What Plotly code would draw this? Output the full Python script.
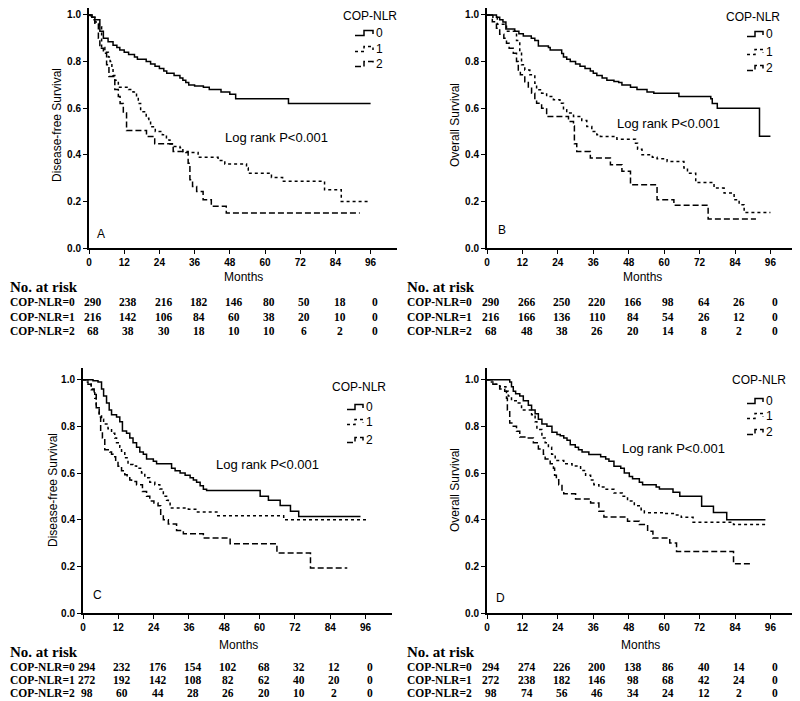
import plotly.graph_objects as go

# ---------------- data ----------------
MONTH_TICKS = [0, 12, 24, 36, 48, 60, 72, 84, 96]
GROUPS = ["0", "1", "2"]
RISK_LABELS = ["COP-NLR=0", "COP-NLR=1", "COP-NLR=2"]

# Panel A: Disease-free survival (step points: month, survival)
A0 = [(0,1),(1,0.99),(2,0.98),(3.7,0.93),(4.9,0.90),(6.5,0.885),(8.2,0.87),(9.5,0.86),(10.5,0.85),(12,0.84),(13.5,0.83),(15.5,0.82),(16.5,0.81),(19.5,0.80),(21,0.79),(22.5,0.78),(24,0.77),(25.5,0.76),(26.5,0.75),(29,0.74),(31,0.73),(32,0.72),(33,0.71),(34,0.70),(36,0.695),(39,0.69),(41,0.68),(45,0.67),(48,0.66),(50,0.64),(68,0.62),(96,0.62)]
A1 = [(0,1),(0.5,0.99),(2,0.97),(3.5,0.95),(4.3,0.86),(5.4,0.84),(6.6,0.82),(7.2,0.80),(7.8,0.77),(8.2,0.74),(8.8,0.72),(10,0.69),(13.5,0.68),(15,0.67),(16.2,0.65),(16.8,0.62),(17.6,0.585),(19.5,0.557),(20.4,0.54),(21,0.52),(22.6,0.50),(25,0.486),(26.4,0.464),(27.6,0.446),(28.7,0.436),(31,0.43),(32,0.414),(33,0.41),(37.2,0.389),(44,0.376),(46.3,0.361),(53.7,0.343),(54.3,0.321),(62.2,0.303),(66,0.286),(80.3,0.25),(86,0.20),(96,0.20)]
A2 = [(0,1),(1,0.98),(2,0.96),(3.2,0.90),(3.7,0.857),(4.9,0.836),(6,0.786),(6.8,0.736),(8.8,0.68),(10,0.65),(10.6,0.62),(11.7,0.579),(12.8,0.504),(19.6,0.479),(22.4,0.447),(28.7,0.414),(33.8,0.364),(34.4,0.293),(35.3,0.264),(36.7,0.243),(38.9,0.207),(41.7,0.179),(46.8,0.15),(92.3,0.15)]
RISK_A = [[290,238,216,182,146,80,50,18,0],[216,142,106,84,60,38,20,10,0],[68,38,30,18,10,10,6,2,0]]

# Panel B: Overall survival
B0 = [(0,1),(3.2,0.99),(4.3,0.98),(5.4,0.97),(6.4,0.94),(9.4,0.93),(10.8,0.92),(12.3,0.91),(15,0.90),(16.2,0.89),(17.4,0.867),(20.8,0.86),(21.4,0.85),(25.3,0.835),(25.9,0.82),(27,0.81),(28.2,0.80),(30,0.79),(31.5,0.78),(33.2,0.77),(35,0.76),(36,0.75),(37.2,0.74),(39,0.73),(40.6,0.72),(43,0.715),(44.6,0.71),(45.7,0.70),(48.6,0.69),(50.8,0.68),(54.2,0.67),(56.5,0.664),(65,0.65),(75.8,0.64),(76.3,0.62),(78,0.60),(92.3,0.48),(96,0.48)]
B1 = [(0,1),(2,0.99),(3.5,0.96),(6.6,0.93),(10,0.89),(11.1,0.836),(11.7,0.786),(12.8,0.764),(14.5,0.743),(16.2,0.707),(16.8,0.679),(18.5,0.664),(20.2,0.65),(22.5,0.636),(24.7,0.621),(25.9,0.593),(27,0.579),(29.3,0.564),(32.1,0.547),(33.8,0.521),(35.5,0.50),(37.2,0.486),(38.4,0.479),(44,0.467),(50.3,0.45),(51,0.424),(52.5,0.40),(56,0.39),(57.6,0.383),(61,0.371),(66.7,0.343),(67.9,0.321),(70.7,0.281),(76.9,0.257),(80.3,0.236),(83.7,0.207),(85.4,0.186),(87.1,0.152),(96,0.152)]
B2 = [(0,1),(1.8,0.971),(3.2,0.943),(4.3,0.917),(5.7,0.90),(6.6,0.879),(7.5,0.857),(8.9,0.836),(10,0.80),(10.6,0.764),(11.3,0.743),(12.8,0.714),(14,0.686),(15.1,0.664),(16.2,0.636),(16.8,0.621),(18.5,0.60),(20.2,0.564),(27.6,0.543),(29.3,0.524),(29.6,0.447),(30.4,0.414),(35,0.386),(41.8,0.357),(45.7,0.329),(48.6,0.271),(57.6,0.207),(63.3,0.183),(74.9,0.124),(91.1,0.124)]
RISK_B = [[290,266,250,220,166,98,64,26,0],[216,166,136,110,84,54,26,12,0],[68,48,38,26,20,14,8,2,0]]

# Panel C: Disease-free survival
C0 = [(0,1),(3.4,0.995),(5.1,0.99),(6.3,0.96),(7,0.93),(8,0.90),(8.9,0.87),(9.7,0.85),(11.4,0.84),(12.5,0.82),(13.4,0.78),(14.8,0.77),(15.9,0.75),(17,0.73),(18.2,0.71),(19.3,0.69),(20.5,0.68),(21.6,0.66),(23.9,0.65),(25,0.64),(30.1,0.62),(31.3,0.61),(33,0.60),(34.7,0.59),(36.4,0.58),(37.5,0.57),(38.6,0.56),(39.8,0.545),(40.9,0.53),(42,0.525),(60.2,0.50),(63,0.483),(67,0.461),(70.5,0.436),(73.3,0.414),(94.3,0.414)]
C1 = [(0,1),(1,0.99),(1.7,0.98),(2.8,0.957),(4,0.92),(4.5,0.88),(5.5,0.85),(6.3,0.83),(7,0.81),(8.5,0.79),(9.7,0.77),(10.8,0.75),(11.4,0.73),(12.5,0.71),(13.1,0.693),(14.2,0.665),(15.3,0.636),(17,0.63),(18.2,0.62),(19.9,0.60),(21,0.58),(22.7,0.56),(24.4,0.55),(26.1,0.531),(27.3,0.50),(28.4,0.483),(29,0.47),(29.6,0.45),(35.8,0.445),(38.6,0.433),(45.5,0.417),(68.2,0.40),(96.5,0.40)]
C2 = [(0,1),(1.7,0.98),(2.8,0.96),(3.8,0.936),(4.5,0.88),(5.5,0.84),(6,0.779),(6.6,0.75),(7.4,0.70),(9.1,0.69),(9.7,0.68),(10.2,0.67),(11.1,0.65),(11.9,0.629),(13.1,0.61),(14.2,0.593),(15,0.58),(15.9,0.57),(16.5,0.564),(18.2,0.55),(20.2,0.521),(21.6,0.50),(22.7,0.48),(24.1,0.471),(25.5,0.46),(26.4,0.42),(27.3,0.40),(29,0.381),(31.8,0.354),(34.1,0.34),(40.9,0.321),(50,0.297),(65.9,0.257),(77.3,0.193),(89.8,0.193)]
RISK_C = [[294,232,176,154,102,68,32,12,0],[272,192,142,108,82,62,40,20,0],[98,60,44,28,26,20,10,2,0]]

# Panel D: Overall survival
D0 = [(0,1),(7.7,0.99),(8.3,0.97),(8.9,0.95),(9.7,0.94),(11.1,0.93),(12.3,0.91),(14,0.89),(15.1,0.87),(16.3,0.854),(17.4,0.83),(18.6,0.81),(20.3,0.80),(22,0.775),(23.7,0.765),(24.8,0.76),(26,0.75),(27.1,0.74),(28.2,0.721),(29.9,0.71),(31,0.70),(32.2,0.69),(34.5,0.679),(38.5,0.67),(40.2,0.66),(41.3,0.65),(43,0.629),(45.3,0.62),(46.5,0.60),(48.2,0.585),(49.3,0.575),(51.6,0.56),(52.7,0.55),(57.3,0.54),(58.4,0.531),(63,0.517),(65.3,0.50),(72.7,0.457),(76.7,0.431),(81.2,0.40),(94.3,0.40)]
D1 = [(0,1),(0.9,0.99),(2,0.98),(4.3,0.97),(6.4,0.95),(7.2,0.93),(8.3,0.91),(10.6,0.90),(11.7,0.87),(15.1,0.85),(16.3,0.82),(16.9,0.786),(18.6,0.75),(19.7,0.73),(20.8,0.71),(21.9,0.68),(23.1,0.654),(26,0.64),(28.8,0.63),(31.7,0.611),(33.4,0.59),(35.1,0.57),(36.2,0.55),(37.9,0.54),(39.6,0.53),(43,0.514),(45.8,0.50),(47.6,0.48),(49.9,0.46),(52.2,0.443),(53.3,0.43),(60.1,0.426),(63.5,0.42),(65.8,0.41),(69.8,0.389),(83.5,0.379),(94.9,0.379)]
D2 = [(0,1),(2,0.98),(4.3,0.96),(6,0.95),(6.6,0.92),(6.9,0.87),(7.7,0.814),(8.9,0.80),(10,0.779),(11.1,0.754),(14,0.75),(15.7,0.73),(17.4,0.703),(19.1,0.68),(19.7,0.66),(21.4,0.64),(22.5,0.62),(22.9,0.59),(23.5,0.571),(24.3,0.55),(25.4,0.521),(26,0.511),(30,0.489),(35.1,0.471),(37.9,0.436),(39.6,0.411),(47.6,0.393),(51.6,0.379),(54.4,0.35),(56.2,0.321),(61.9,0.30),(64.2,0.264),(83.5,0.211),(89.2,0.211)]
RISK_D = [[294,274,226,200,138,86,40,14,0],[272,238,182,146,98,68,42,24,0],[98,74,56,46,34,24,12,2,0]]

# ---------------- layout helpers (window pixel -> paper) ----------------
# The page body has an 8px margin, so the figure is 792x693 placed at (8, 8).
OFF = 8
W, H = 800 - OFF, 701 - OFF
def fx(p): return (p - OFF) / W
def fy(p): return min(1.0, max(0.0, 1 - (p - OFF) / H))

SANS = "Liberation Sans, Arial, sans-serif"
NARROW = "Liberation Sans Narrow, Arial Narrow, Liberation Sans, Arial"
SERIF = "Liberation Serif, Times New Roman, serif"
DASHES = ["solid", "dot", "6px,3px"]

panels = [
    dict(letter="A", curves=[A0, A1, A2], risk=RISK_A, ytitle="Disease-free Survival",
         xd=(89, 397), yd=(8, 248), ymax=1.03, yt=(57, 125), let=(101, 234), lr=(276, 137),
         lgt=(370, 16), lg=(355, 373), lgr=[33, 49, 64], mo=(243, 277),
         nar=(8, 287), rows=[302, 317, 331]),
    dict(letter="B", curves=[B0, B1, B2], risk=RISK_B, ytitle="Overall Survival",
         xd=(487, 797), yd=(8, 248), ymax=1.03, yt=(455, 125), let=(502, 230), lr=(668, 123),
         lgt=(753, 17), lg=(747, 763), lgr=[34, 52, 68], mo=(642, 277),
         nar=(405, 287), rows=[302, 317, 331]),
    dict(letter="C", curves=[C0, C1, C2], risk=RISK_C, ytitle="Disease-free Survival",
         xd=(83, 392), yd=(368, 613), ymax=1.05, yt=(53, 490), let=(97, 595), lr=(267, 465),
         lgt=(359, 387), lg=(347, 363), lgr=[407, 422, 440], mo=(238, 645),
         nar=(8, 652), rows=[667, 680, 693]),
    dict(letter="D", curves=[D0, D1, D2], risk=RISK_D, ytitle="Overall Survival",
         xd=(487, 797), yd=(368, 613), ymax=1.05, yt=(455, 490), let=(500, 598), lr=(673, 448),
         lgt=(759, 380), lg=(747, 763), lgr=[401, 416, 432], mo=(640, 645),
         nar=(405, 652), rows=[667, 680, 693]),
]

fig = go.Figure()
annotations = []
shapes = []
layout = {}

def note(x, y, text, font, xref="paper", xanchor="center", angle=0):
    annotations.append(dict(x=x, y=y, xref=xref, yref="paper", text=text, showarrow=False,
                            xanchor=xanchor, yanchor="middle", textangle=angle, font=font))

for i, p in enumerate(panels):
    n = "" if i == 0 else str(i + 1)
    xa, ya = "x" + n, "y" + n
    for g, (curve, dash) in enumerate(zip(p["curves"], DASHES)):
        t = [c[0] for c in curve]
        s = [c[1] for c in curve]
        fig.add_trace(go.Scatter(x=t, y=s, mode="lines", line=dict(color="black", width=1.5, dash=dash, shape="hv"),
                                 xaxis=xa, yaxis=ya, showlegend=False, hoverinfo="skip"))
    layout["xaxis" + n] = dict(domain=[fx(p["xd"][0]), fx(p["xd"][1])], range=[0, 105], anchor=ya,
                              automargin=False,
                              tickvals=MONTH_TICKS, ticks="outside", ticklen=4, tickwidth=1, tickcolor="black",
                              showline=True, linecolor="black", linewidth=2, showgrid=False, zeroline=False,
                              tickfont=dict(family=NARROW, size=10, color="black", weight="bold"))
    layout["yaxis" + n] = dict(domain=[fy(p["yd"][1]), fy(p["yd"][0])], range=[0, p["ymax"]], anchor=xa,
                              automargin=False,
                              tickvals=[0, 0.2, 0.4, 0.6, 0.8, 1.0], tickformat=".1f", ticks="outside", ticklen=4,
                              tickwidth=1, tickcolor="black", showline=True, linecolor="black", linewidth=2,
                              showgrid=False, zeroline=False,
                              tickfont=dict(family=NARROW, size=10, color="black", weight="bold"))
    sans12 = dict(family=SANS, size=12, color="black")
    note(fx(p["yt"][0]), fy(p["yt"][1]), p["ytitle"], sans12, angle=-90)
    note(fx(p["mo"][0]), fy(p["mo"][1]), "Months", sans12)
    note(fx(p["let"][0]), fy(p["let"][1]), p["letter"], sans12)
    note(fx(p["lr"][0]), fy(p["lr"][1]), "Log rank P<0.001", dict(family=SANS, size=13, color="black"))
    # legend
    note(fx(p["lgt"][0]), fy(p["lgt"][1]), "COP-NLR", sans12)
    x0, x1 = p["lg"]
    xm = (x0 + x1) / 2
    for g, (ry, dash) in enumerate(zip(p["lgr"], DASHES)):
        path = "M {a},{b} L {c},{b} L {c},{d} L {e},{d} L {e},{f}".format(
            a=fx(x0), b=fy(ry + 2.5), c=fx(xm), d=fy(ry - 2.5), e=fx(x1), f=fy(ry + 1))
        shapes.append(dict(type="path", path=path, xref="paper", yref="paper",
                           line=dict(color="black", width=1.5, dash=dash)))
        note(fx(x1 + 1), fy(ry), GROUPS[g], sans12, xanchor="left")
    # risk table
    note(fx(p["nar"][0]), fy(p["nar"][1]), "No. at risk",
         dict(family=SERIF, size=15, color="black", weight="bold"), xanchor="left")
    serif_b = dict(family=SERIF, size=11.5, color="black", weight="bold")
    for r, (ry, vals) in enumerate(zip(p["rows"], p["risk"])):
        note(fx(p["nar"][0]), fy(ry), RISK_LABELS[r], serif_b, xanchor="left")
        for m, v in zip(MONTH_TICKS, vals):
            note(m + 1.4, fy(ry), str(v), serif_b, xref=xa)

fig.update_layout(width=W, height=H, margin=dict(l=0, r=0, t=0, b=0), plot_bgcolor="white",
                  paper_bgcolor="white", showlegend=False, annotations=annotations, shapes=shapes, **layout)
fig.write_html("out.html")
